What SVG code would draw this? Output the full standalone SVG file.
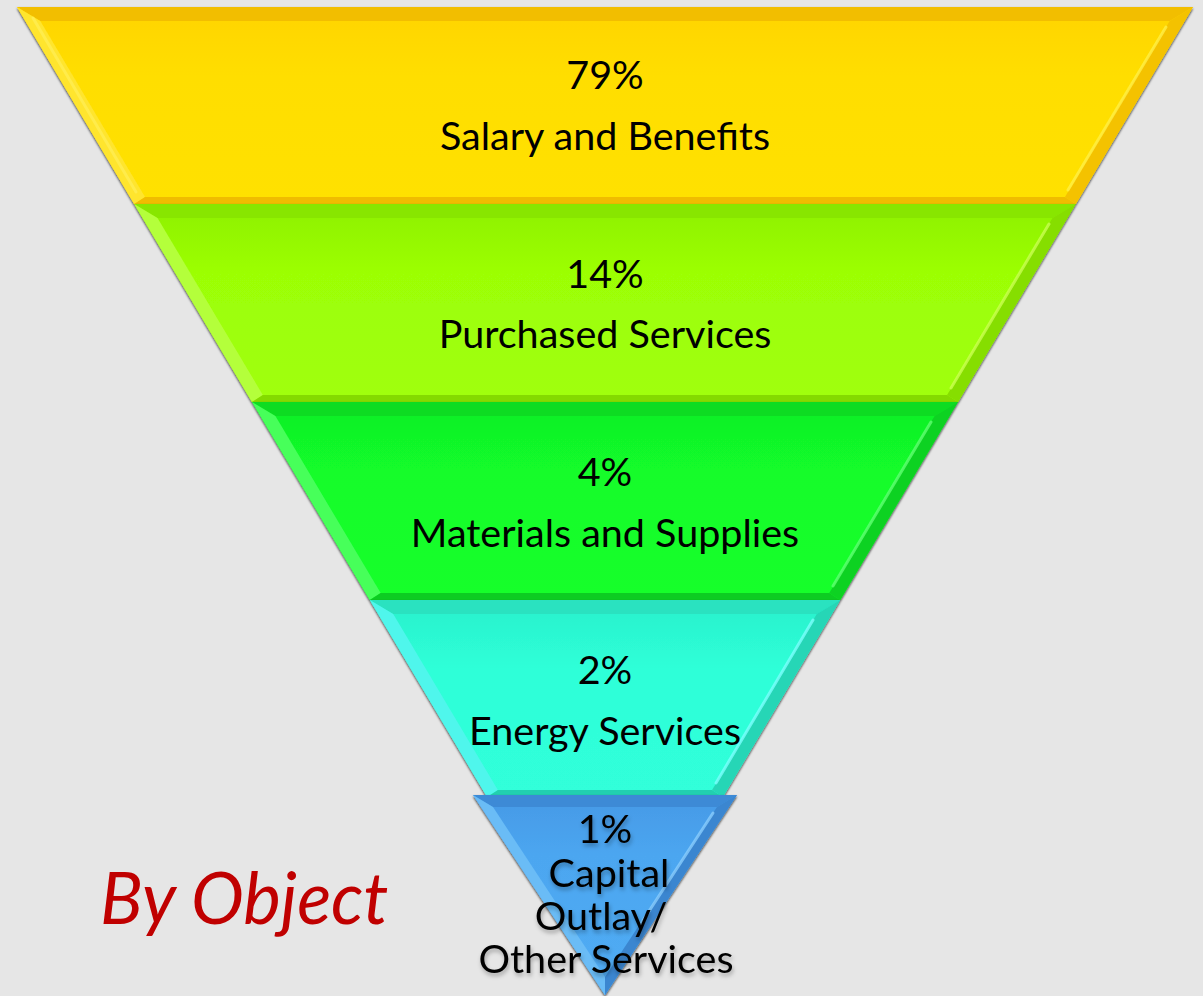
<svg xmlns="http://www.w3.org/2000/svg" width="1203" height="996" viewBox="0 0 1203 996">
  <defs>
    <filter id="drop" x="-5%" y="-5%" width="110%" height="115%">
      <feDropShadow dx="0" dy="1.5" stdDeviation="1.1" flood-color="#000" flood-opacity="0.7"/>
    </filter>
    <filter id="txtShadow" x="-10%" y="-20%" width="120%" height="150%">
      <feDropShadow dx="1" dy="3" stdDeviation="2" flood-color="#000" flood-opacity="0.3"/>
    </filter>
    <linearGradient id="gYellow" x1="0" y1="0" x2="0" y2="1">
      <stop offset="0" stop-color="#FFD400"/>
      <stop offset="0.35" stop-color="#FFDE00"/>
      <stop offset="1" stop-color="#FFE100"/>
    </linearGradient>
    <linearGradient id="gLime" x1="0" y1="0" x2="0" y2="1">
      <stop offset="0" stop-color="#8EF000"/>
      <stop offset="0.35" stop-color="#9CFF06"/>
      <stop offset="1" stop-color="#A0FF0A"/>
    </linearGradient>
    <linearGradient id="gGreen" x1="0" y1="0" x2="0" y2="1">
      <stop offset="0" stop-color="#10EE26"/>
      <stop offset="0.35" stop-color="#12FC2A"/>
      <stop offset="1" stop-color="#14FF2C"/>
    </linearGradient>
    <linearGradient id="gTeal" x1="0" y1="0" x2="0" y2="1">
      <stop offset="0" stop-color="#2AF0CC"/>
      <stop offset="0.35" stop-color="#2EFFD8"/>
      <stop offset="1" stop-color="#30FFDA"/>
    </linearGradient>
    <linearGradient id="gBlue" x1="0" y1="0" x2="0" y2="1">
      <stop offset="0" stop-color="#4599E6"/>
      <stop offset="0.3" stop-color="#4CA6F0"/>
      <stop offset="1" stop-color="#50ACF4"/>
    </linearGradient>
    <style>
      .label { font-family: Lato, "Open Sans", "Liberation Sans", sans-serif; font-size: 39.5px; fill: #000; text-anchor: middle; }
      .hl { fill: none; stroke-width: 3; stroke-linecap: round; opacity: 0.75; }
      /* yellow band */
      .y-top { fill: #F2BE00; } .y-left { fill: #FFE52E; } .y-right { fill: #F4C200; } .y-bot { fill: #F0BC00; }
      /* lime band */
      .l-top { fill: #88E600; } .l-left { fill: #B4FF3A; } .l-right { fill: #86DE00; } .l-bot { fill: #84DA00; }
      /* green band */
      .g-top { fill: #10DC24; } .g-left { fill: #46FF5A; } .g-right { fill: #0ED222; } .g-bot { fill: #0ECC20; }
      /* teal band */
      .t-top { fill: #29E2C0; } .t-left { fill: #50F6EC; } .t-right { fill: #25D6B6; } .t-bot { fill: #24D0B0; }
      /* blue tip */
      .b-top { fill: #3C8AD6; } .b-left { fill: #6ABCF6; } .b-right { fill: #3A86D0; }
    </style>
  </defs>

  <rect width="1203" height="996" fill="#E6E6E6"/>

  <!-- funnel bands, drawn top to bottom -->
  <g id="band-salary" filter="url(#drop)">
    <polygon points="17,7 1193,7 1075.8,204 134.2,204" fill="url(#gYellow)"/>
    <polygon class="y-top" points="17,7 1193,7 1169.7,21 40.3,21"/>
    <polygon class="y-left" points="17,7 40.3,21 145.05,197 134.2,204"/>
    <polygon class="y-right" points="1193,7 1075.8,204 1064.95,197 1169.7,21"/>
    <polygon class="y-bot" points="134.2,204 1075.8,204 1064.95,197 145.05,197"/>
    <line class="hl" x1="1166" y1="27" x2="1068" y2="190" stroke="#FFF04A"/>
    <line class="hl" x1="33" y1="18" x2="136" y2="192" stroke="#FFEE55"/>
  </g>

  <g id="band-purchased" filter="url(#drop)">
    <polygon points="134.2,204 1075.8,204 958,402 252,402" fill="url(#gLime)"/>
    <polygon class="l-top" points="134.2,204 1075.8,204 1052.5,218 157.5,218"/>
    <polygon class="l-left" points="134.2,204 157.5,218 262.9,395 252,402"/>
    <polygon class="l-right" points="1075.8,204 958,402 947.1,395 1052.5,218"/>
    <polygon class="l-bot" points="252,402 958,402 947.1,395 262.9,395"/>
    <line class="hl" x1="1049" y1="224" x2="951" y2="388" stroke="#CCFF55"/>
  </g>

  <g id="band-materials" filter="url(#drop)">
    <polygon points="252,402 958,402 840.2,600 369.8,600" fill="url(#gGreen)"/>
    <polygon class="g-top" points="252,402 958,402 934.6,416 275.4,416"/>
    <polygon class="g-left" points="252,402 275.4,416 380.7,593 369.8,600"/>
    <polygon class="g-right" points="958,402 840.2,600 829.3,593 934.6,416"/>
    <polygon class="g-bot" points="369.8,600 840.2,600 829.3,593 380.7,593"/>
    <line class="hl" x1="931" y1="422" x2="833" y2="586" stroke="#66FF77"/>
  </g>

  <g id="band-energy" filter="url(#drop)">
    <polygon points="369.8,600 840.2,600 722.9,797 487.1,797" fill="url(#gTeal)"/>
    <polygon class="t-top" points="369.8,600 840.2,600 816.8,614 393.2,614"/>
    <polygon class="t-left" points="369.8,600 393.2,614 497.9,790 487.1,797"/>
    <polygon class="t-right" points="840.2,600 722.9,797 712.1,790 816.8,614"/>
    <polygon class="t-bot" points="487.1,797 722.9,797 712.1,790 497.9,790"/>
    <line class="hl" x1="813" y1="620" x2="716" y2="783" stroke="#80FFFF"/>
  </g>

  <g id="band-capital" filter="url(#drop)">
    <polygon points="473,795 737,795 605,995" fill="url(#gBlue)"/>
    <polygon class="b-top" points="473,795 737,795 717,807 493,807"/>
    <polygon class="b-left" points="473,795 493,807 605,977 605,995"/>
    <polygon class="b-right" points="737,795 605,995 605,977 717,807"/>
    <line class="hl" x1="713" y1="813" x2="640" y2="925" stroke="#8ED0FF"/>
  </g>

  <!-- band labels -->
  <g id="labels">
    <text class="label" x="605" y="89">79%</text>
    <text class="label" x="605" y="150">Salary and Benefits</text>
    <text class="label" x="605" y="288">14%</text>
    <text class="label" x="605" y="348">Purchased Services</text>
    <text class="label" x="605" y="486">4%</text>
    <text class="label" x="605" y="547">Materials and Supplies</text>
    <text class="label" x="605" y="684">2%</text>
    <text class="label" x="605" y="745">Energy Services</text>
  </g>
  <g id="labels-tip" filter="url(#txtShadow)">
    <text class="label" x="605" y="843">1%</text>
    <text class="label" x="609" y="887">Capital</text>
    <text class="label" x="601" y="930">Outlay/</text>
    <text class="label" x="606" y="973">Other Services</text>
  </g>

  <text id="title" x="100" y="924" font-family="Lato, 'Open Sans', 'Liberation Sans', sans-serif" font-style="italic" font-size="71" fill="#C00000">By Object</text>
</svg>
